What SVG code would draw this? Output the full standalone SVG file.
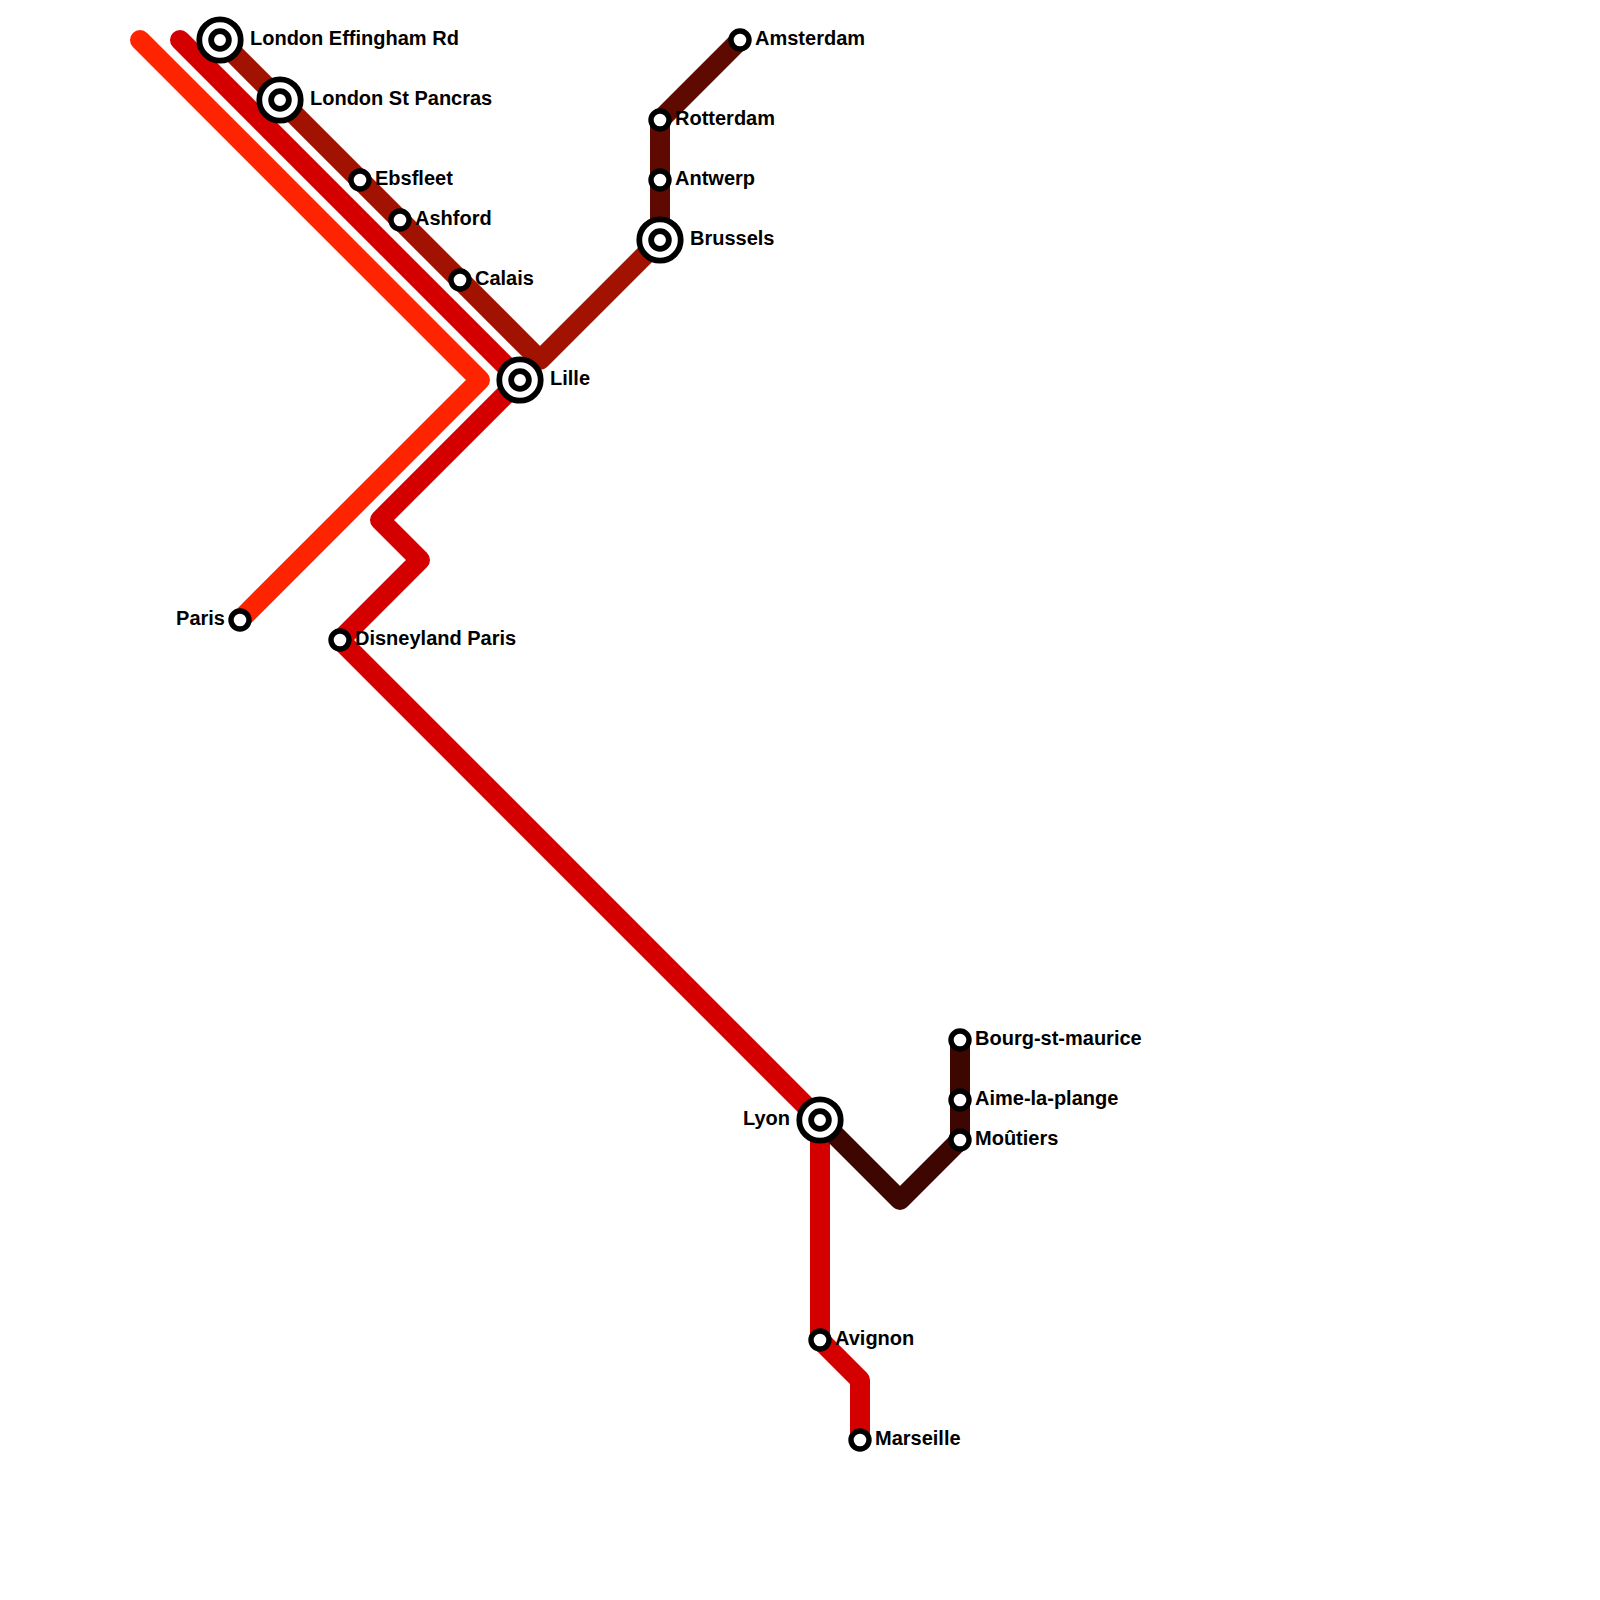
<svg xmlns="http://www.w3.org/2000/svg" width="1600" height="1600" viewBox="0 0 1600 1600">
<style>
.l{fill:none;stroke-width:20;stroke-linecap:round;stroke-linejoin:round}
.r{fill:#fff;stroke:#000;stroke-width:5.4}
.c{fill:#fff;stroke:#000;stroke-width:5.8}
text{font-family:"Liberation Sans",Arial,sans-serif;font-weight:bold;font-size:20px;fill:#000}
.e{text-anchor:end}
</style>
<defs>
<g id="s"><circle class="r" r="9"/></g>
<g id="b"><circle class="c" r="20.7"/><circle class="c" r="8.85"/></g>
</defs>
<rect width="1600" height="1600" fill="#fff"/>
<g id="connectors">
<path class="l" stroke="#a11300" d="M220 40L540 360L660 240"/>
<path class="l" stroke="#ff2400" d="M140 40L480 380L240 620"/>
<path class="l" stroke="#d40000" d="M180 40L520 380L380 520L420 560L340 640L820 1120V1340L860 1380V1440"/>
<path class="l" stroke="#5f0a00" d="M660 240V120L740 40"/>
<path class="l" stroke="#3d0600" d="M820 1120L900 1200L960 1140V1040"/>
</g>
<g id="london-effingham"><use href="#b" x="220" y="40"/><text x="250" y="45">London Effingham Rd</text></g>
<g id="london-st-pancras"><use href="#b" x="280" y="100"/><text x="310" y="105">London St Pancras</text></g>
<g id="ebsfleet"><use href="#s" x="360" y="180"/><text x="375" y="185">Ebsfleet</text></g>
<g id="ashford"><use href="#s" x="400" y="220"/><text x="415" y="225">Ashford</text></g>
<g id="calais"><use href="#s" x="460" y="280"/><text x="475" y="285">Calais</text></g>
<g id="lille"><use href="#b" x="520" y="380"/><text x="550" y="385">Lille</text></g>
<g id="brussels"><use href="#b" x="660" y="240"/><text x="690" y="245">Brussels</text></g>
<g id="antwerp"><use href="#s" x="660" y="180"/><text x="675" y="185">Antwerp</text></g>
<g id="rotterdam"><use href="#s" x="660" y="120"/><text x="675" y="125">Rotterdam</text></g>
<g id="amsterdam"><use href="#s" x="740" y="40"/><text x="755" y="45">Amsterdam</text></g>
<g id="paris"><use href="#s" x="240" y="620"/><text class="e" x="225" y="625">Paris</text></g>
<g id="disneyland-paris"><use href="#s" x="340" y="640"/><text x="355" y="645">Disneyland Paris</text></g>
<g id="lyon"><use href="#b" x="820" y="1120"/><text class="e" x="790" y="1125">Lyon</text></g>
<g id="avignon"><use href="#s" x="820" y="1340"/><text x="835" y="1345">Avignon</text></g>
<g id="marseille"><use href="#s" x="860" y="1440"/><text x="875" y="1445">Marseille</text></g>
<g id="bourg-st-maurice"><use href="#s" x="960" y="1040"/><text x="975" y="1045">Bourg-st-maurice</text></g>
<g id="aime-la-plange"><use href="#s" x="960" y="1100"/><text x="975" y="1105">Aime-la-plange</text></g>
<g id="moutiers"><use href="#s" x="960" y="1140"/><text x="975" y="1145">Moûtiers</text></g>
</svg>
